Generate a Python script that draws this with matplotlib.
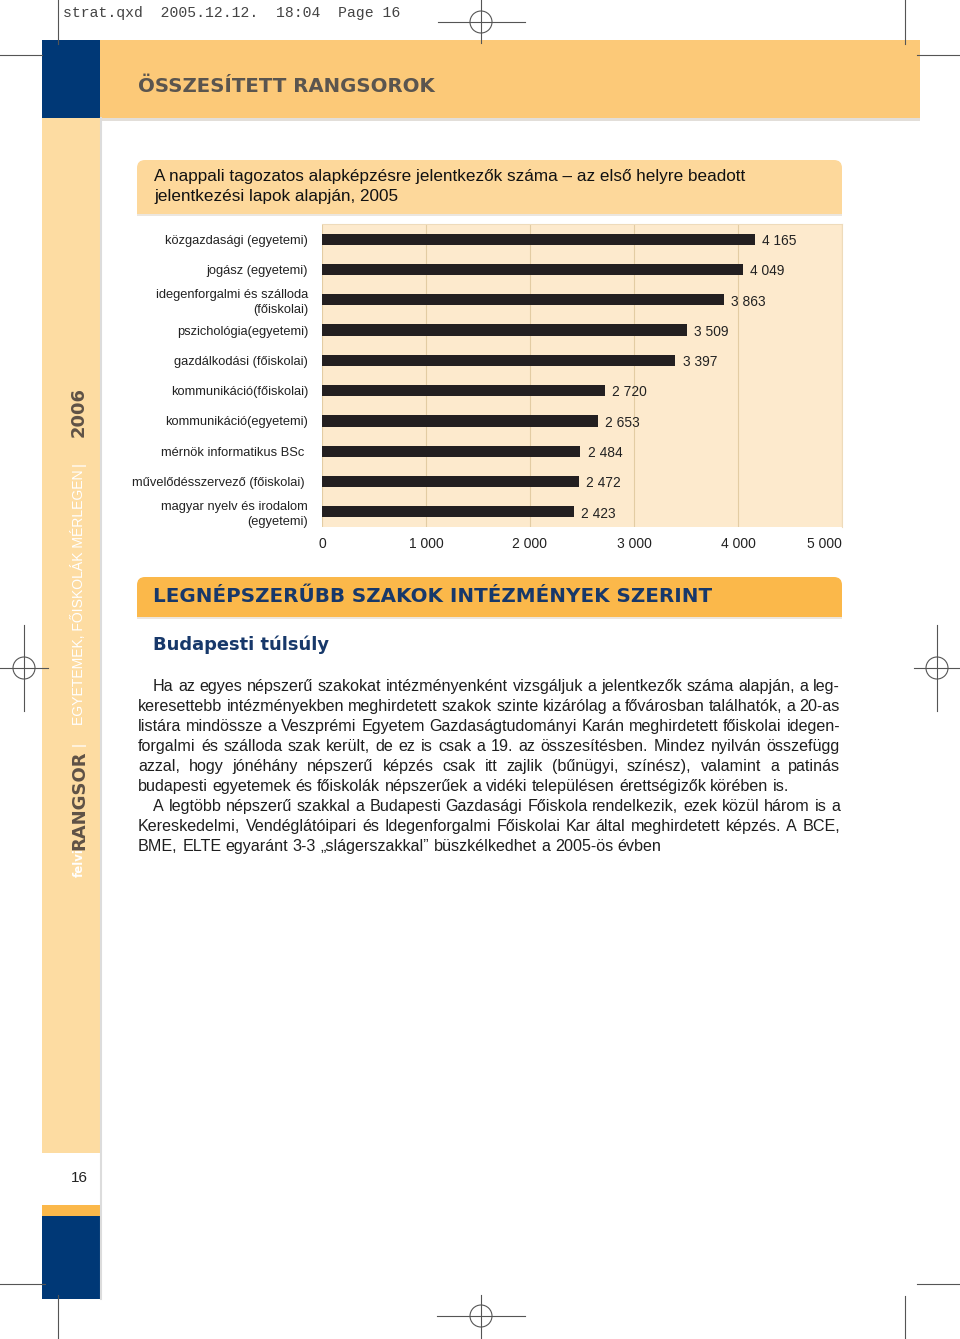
import numpy as np
import matplotlib
matplotlib.use('Agg')
import matplotlib.pyplot as plt
from matplotlib import font_manager
from matplotlib.patches import Rectangle, FancyBboxPatch, Circle

# --- data ---
categories = [
    'közgazdasági (egyetemi)',
    'jogász (egyetemi)',
    'idegenforgalmi és szálloda\n(főiskolai)',
    'pszichológia(egyetemi)',
    'gazdálkodási (főiskolai)',
    'kommunikáció(főiskolai)',
    'kommunikáció(egyetemi)',
    'mérnök informatikus BSc ',
    'művelődésszervező (főiskolai) ',
    'magyar nyelv és irodalom\n(egyetemi)',
]
values = [4165, 4049, 3863, 3509, 3397, 2720, 2653, 2484, 2472, 2423]
x_ticks = [0, 1000, 2000, 3000, 4000, 5000]
x_tick_labels = ['0', '1 000', '2 000', '3 000', '4 000', '5 000']

chart_title = ['A nappali tagozatos alapképzésre jelentkezők száma – az első helyre beadott',
               'jelentkezési lapok alapján, 2005']

body_lines = [
    ('Ha az egyes népszerű szakokat intézményenként vizsgáljuk a jelentkezők száma alapján, a leg-', True, True),
    ('keresettebb intézményekben meghirdetett szakok szinte kizárólag a fővárosban találhatók, a 20-as', False, True),
    ('listára mindössze a Veszprémi Egyetem Gazdaságtudományi Karán meghirdetett főiskolai idegen-', False, True),
    ('forgalmi és szálloda szak került, de ez is csak a 19. az összesítésben. Mindez nyilván összefügg', False, True),
    ('azzal, hogy jónéhány népszerű képzés csak itt zajlik (bűnügyi, színész), valamint a patinás', False, True),
    ('budapesti egyetemek és főiskolák népszerűek a vidéki településen érettségizők körében is.', False, False),
    ('A legtöbb népszerű szakkal a Budapesti Gazdasági Főiskola rendelkezik, ezek közül három is a', True, True),
    ('Kereskedelmi, Vendéglátóipari és Idegenforgalmi Főiskolai Kar által meghirdetett képzés. A BCE,', False, True),
    ('BME, ELTE egyaránt 3-3 „slágerszakkal” büszkélkedhet a 2005-ös évben', False, False),
]

names = {f.name for f in font_manager.fontManager.ttflist}
NARROW = 'Liberation Sans Narrow' if 'Liberation Sans Narrow' in names else 'Liberation Sans'

BLUE = '#003876'
NAVY = '#17386a'
ORANGE = '#fbb84a'
HEAD = '#fcc978'
SIDE = '#fddca2'
TITLEBOX = '#fdd89b'
PLOTBG = '#fdeacd'
MARK = '#555555'

fig = plt.figure(figsize=(9.6, 13.39), dpi=100)
page = fig.add_axes([0, 0, 1, 1])
page.set_xlim(0, 960)
page.set_ylim(1339, 0)
page.axis('off')


def rect(x0, y0, x1, y1, color, z=1, **kw):
    page.add_patch(Rectangle((x0, y0), x1 - x0, y1 - y0, facecolor=color,
                             edgecolor='none', zorder=z, **kw))


def top_round_box(x0, y0, x1, y1, color, r=8):
    page.add_patch(FancyBboxPatch((x0, y0), x1 - x0, y1 - y0,
                                  boxstyle=f'round,pad=0,rounding_size={r}',
                                  facecolor=color, edgecolor='none', zorder=2))
    rect(x0, (y0 + y1) / 2, x1, y1, color, z=2)


def reg_mark(cx, cy, h0, h1, v0, v1):
    page.plot([h0, h1], [cy, cy], color=MARK, lw=0.8, zorder=5)
    page.plot([cx, cx], [v0, v1], color=MARK, lw=0.8, zorder=5)
    page.add_patch(Circle((cx, cy), 11, facecolor='none', edgecolor=MARK, lw=0.8, zorder=5))


# --- page decoration ---
rect(100, 118, 920, 121, '#e2ded9', z=0)
rect(100, 40, 920, 118, HEAD)
rect(42, 40, 100, 118, BLUE)
rect(42, 118, 100, 1153, SIDE)
rect(42, 1205, 100, 1216, ORANGE)
rect(42, 1216, 100, 1299, BLUE)
page.plot([101, 101], [118, 1299], color='#dcdcdc', lw=1.5, zorder=1)

page.text(138, 87, 'ÖSSZESÍTETT RANGSOROK', fontsize=14.2, fontweight='bold',
          color='#5a554f', va='center', ha='left', family='DejaVu Sans', zorder=3)
page.text(79, 1178, '16', fontsize=11, color='#222222', ha='center', va='center',
          family='Liberation Sans', zorder=3)

# sidebar vertical text (bottom edge of each piece, read bottom-to-top)
side = [
    (877, 'felvi', 'white', 'bold', 'DejaVu Sans', 8.5),
    (850, 'RANGSOR', '#5f5246', 'bold', 'DejaVu Sans', 13),
    (746, '|', 'white', 'normal', 'Liberation Sans', 11),
    (725, 'EGYETEMEK, FŐISKOLÁK MÉRLEGEN', 'white', 'normal', 'Liberation Sans', 10.1),
    (466, '|', 'white', 'normal', 'Liberation Sans', 11),
    (437, '2006', '#5f5246', 'bold', 'DejaVu Sans', 13),
]
for yb, s, c, w, fam, fs in side:
    page.text(79, yb, s, rotation=90, color=c, fontweight=w, family=fam,
              fontsize=fs, ha='center', va='bottom', zorder=3)

# crop / registration marks
page.plot([58, 58], [0, 44], color=MARK, lw=0.8)
page.plot([905, 905], [0, 44], color=MARK, lw=0.8)
page.plot([0, 42], [55, 55], color=MARK, lw=0.8)
page.plot([917, 960], [55, 55], color=MARK, lw=0.8)
page.plot([58, 58], [1295, 1339], color=MARK, lw=0.8)
page.plot([905, 905], [1296, 1339], color=MARK, lw=0.8)
page.plot([0, 45], [1284, 1284], color=MARK, lw=0.8)
page.plot([917, 960], [1284, 1284], color=MARK, lw=0.8)
reg_mark(481, 22, 438, 525, 0, 43)
reg_mark(24, 668, 0, 48, 625, 711)
reg_mark(937, 668, 914, 960, 625, 711)
reg_mark(481, 1316, 437, 525, 1295, 1339)

page.text(63, 13, 'strat.qxd  2005.12.12.  18:04  Page 16', family='Liberation Mono',
          fontsize=10.6, color='#444444', va='center', ha='left')

# --- chart title box ---
top_round_box(137, 160, 842, 214, TITLEBOX)
rect(137, 214, 842, 216, '#ebe6df', z=1)
for i, line in enumerate(chart_title):
    page.text(154, 177 + 20 * i, line, fontsize=12.3, family='Liberation Sans',
              color='#111111', va='center', ha='left', zorder=3)

# --- chart ---
ax = fig.add_axes([322 / 960, 1 - 527 / 1339, 520 / 960, 303 / 1339])
ax.set_facecolor(PLOTBG)
ypos = np.arange(len(categories))
ax.barh(ypos, values, height=0.37, color='#231f20', zorder=3)
for yp, v in zip(ypos, values):
    ax.text(v + 70, yp + 0.06, f'{v:,}'.replace(',', ' '), va='center', ha='left',
            fontsize=9.9, family=NARROW, color='#222222')
ax.set_xlim(0, 5000)
ax.set_ylim(len(categories) - 0.5, -0.5)
ax.set_xticks(x_ticks)
ax.set_xticklabels(x_tick_labels, fontsize=10, family=NARROW, color='#222222')
ax.get_xticklabels()[-1].set_ha('right')
ax.set_yticks(ypos)
ax.set_yticklabels(categories, fontsize=9.3, family=NARROW, color='#222222',
                   linespacing=1.3)
ax.tick_params(axis='both', length=0)
ax.tick_params(axis='y', pad=10)
ax.tick_params(axis='x', pad=7)
ax.grid(axis='x', color='#e3cca3', lw=0.8, zorder=0)
ax.set_axisbelow(True)
for sp in ax.spines.values():
    sp.set_color('#eedbbb')
    sp.set_linewidth(0.8)
ax.spines['left'].set_visible(False)
ax.spines['bottom'].set_visible(False)

# --- section header ---
top_round_box(137, 577, 842, 617, ORANGE)
rect(137, 617, 842, 619, '#ece6de', z=1)
page.text(153, 597, 'LEGNÉPSZERŰBB SZAKOK INTÉZMÉNYEK SZERINT', fontsize=14.3,
          fontweight='bold', family='DejaVu Sans', color=NAVY, va='center', ha='left', zorder=3)
page.text(153, 645, 'Budapesti túlsúly', fontsize=12.9, fontweight='bold',
          family='DejaVu Sans', color=NAVY, va='center', ha='left', zorder=3)

# --- body text, justified ---
renderer = fig.canvas.get_renderer()
body_kw = dict(fontsize=11.6, family=NARROW, color='#1e1e1e', va='baseline', ha='left', zorder=3)
probe_a = page.text(0, -100, 'a a', **body_kw)
probe_b = page.text(0, -100, 'aa', **body_kw)
space_w = probe_a.get_window_extent(renderer).width - probe_b.get_window_extent(renderer).width
probe_a.remove()
probe_b.remove()

x_left, x_right = 138, 840
for i, (line, indent, just) in enumerate(body_lines):
    yb = 691 + 20 * i
    x0 = x_left + (15 if indent else 0)
    words = line.split(' ')
    texts = [page.text(0, yb, w, **body_kw) for w in words]
    widths = [t.get_window_extent(renderer).width for t in texts]
    gap = (x_right - x0 - sum(widths)) / (len(words) - 1) if just else space_w
    x = x0
    for t, w in zip(texts, widths):
        t.set_x(x)
        x += w + gap

fig.savefig('out.png', dpi=100)
